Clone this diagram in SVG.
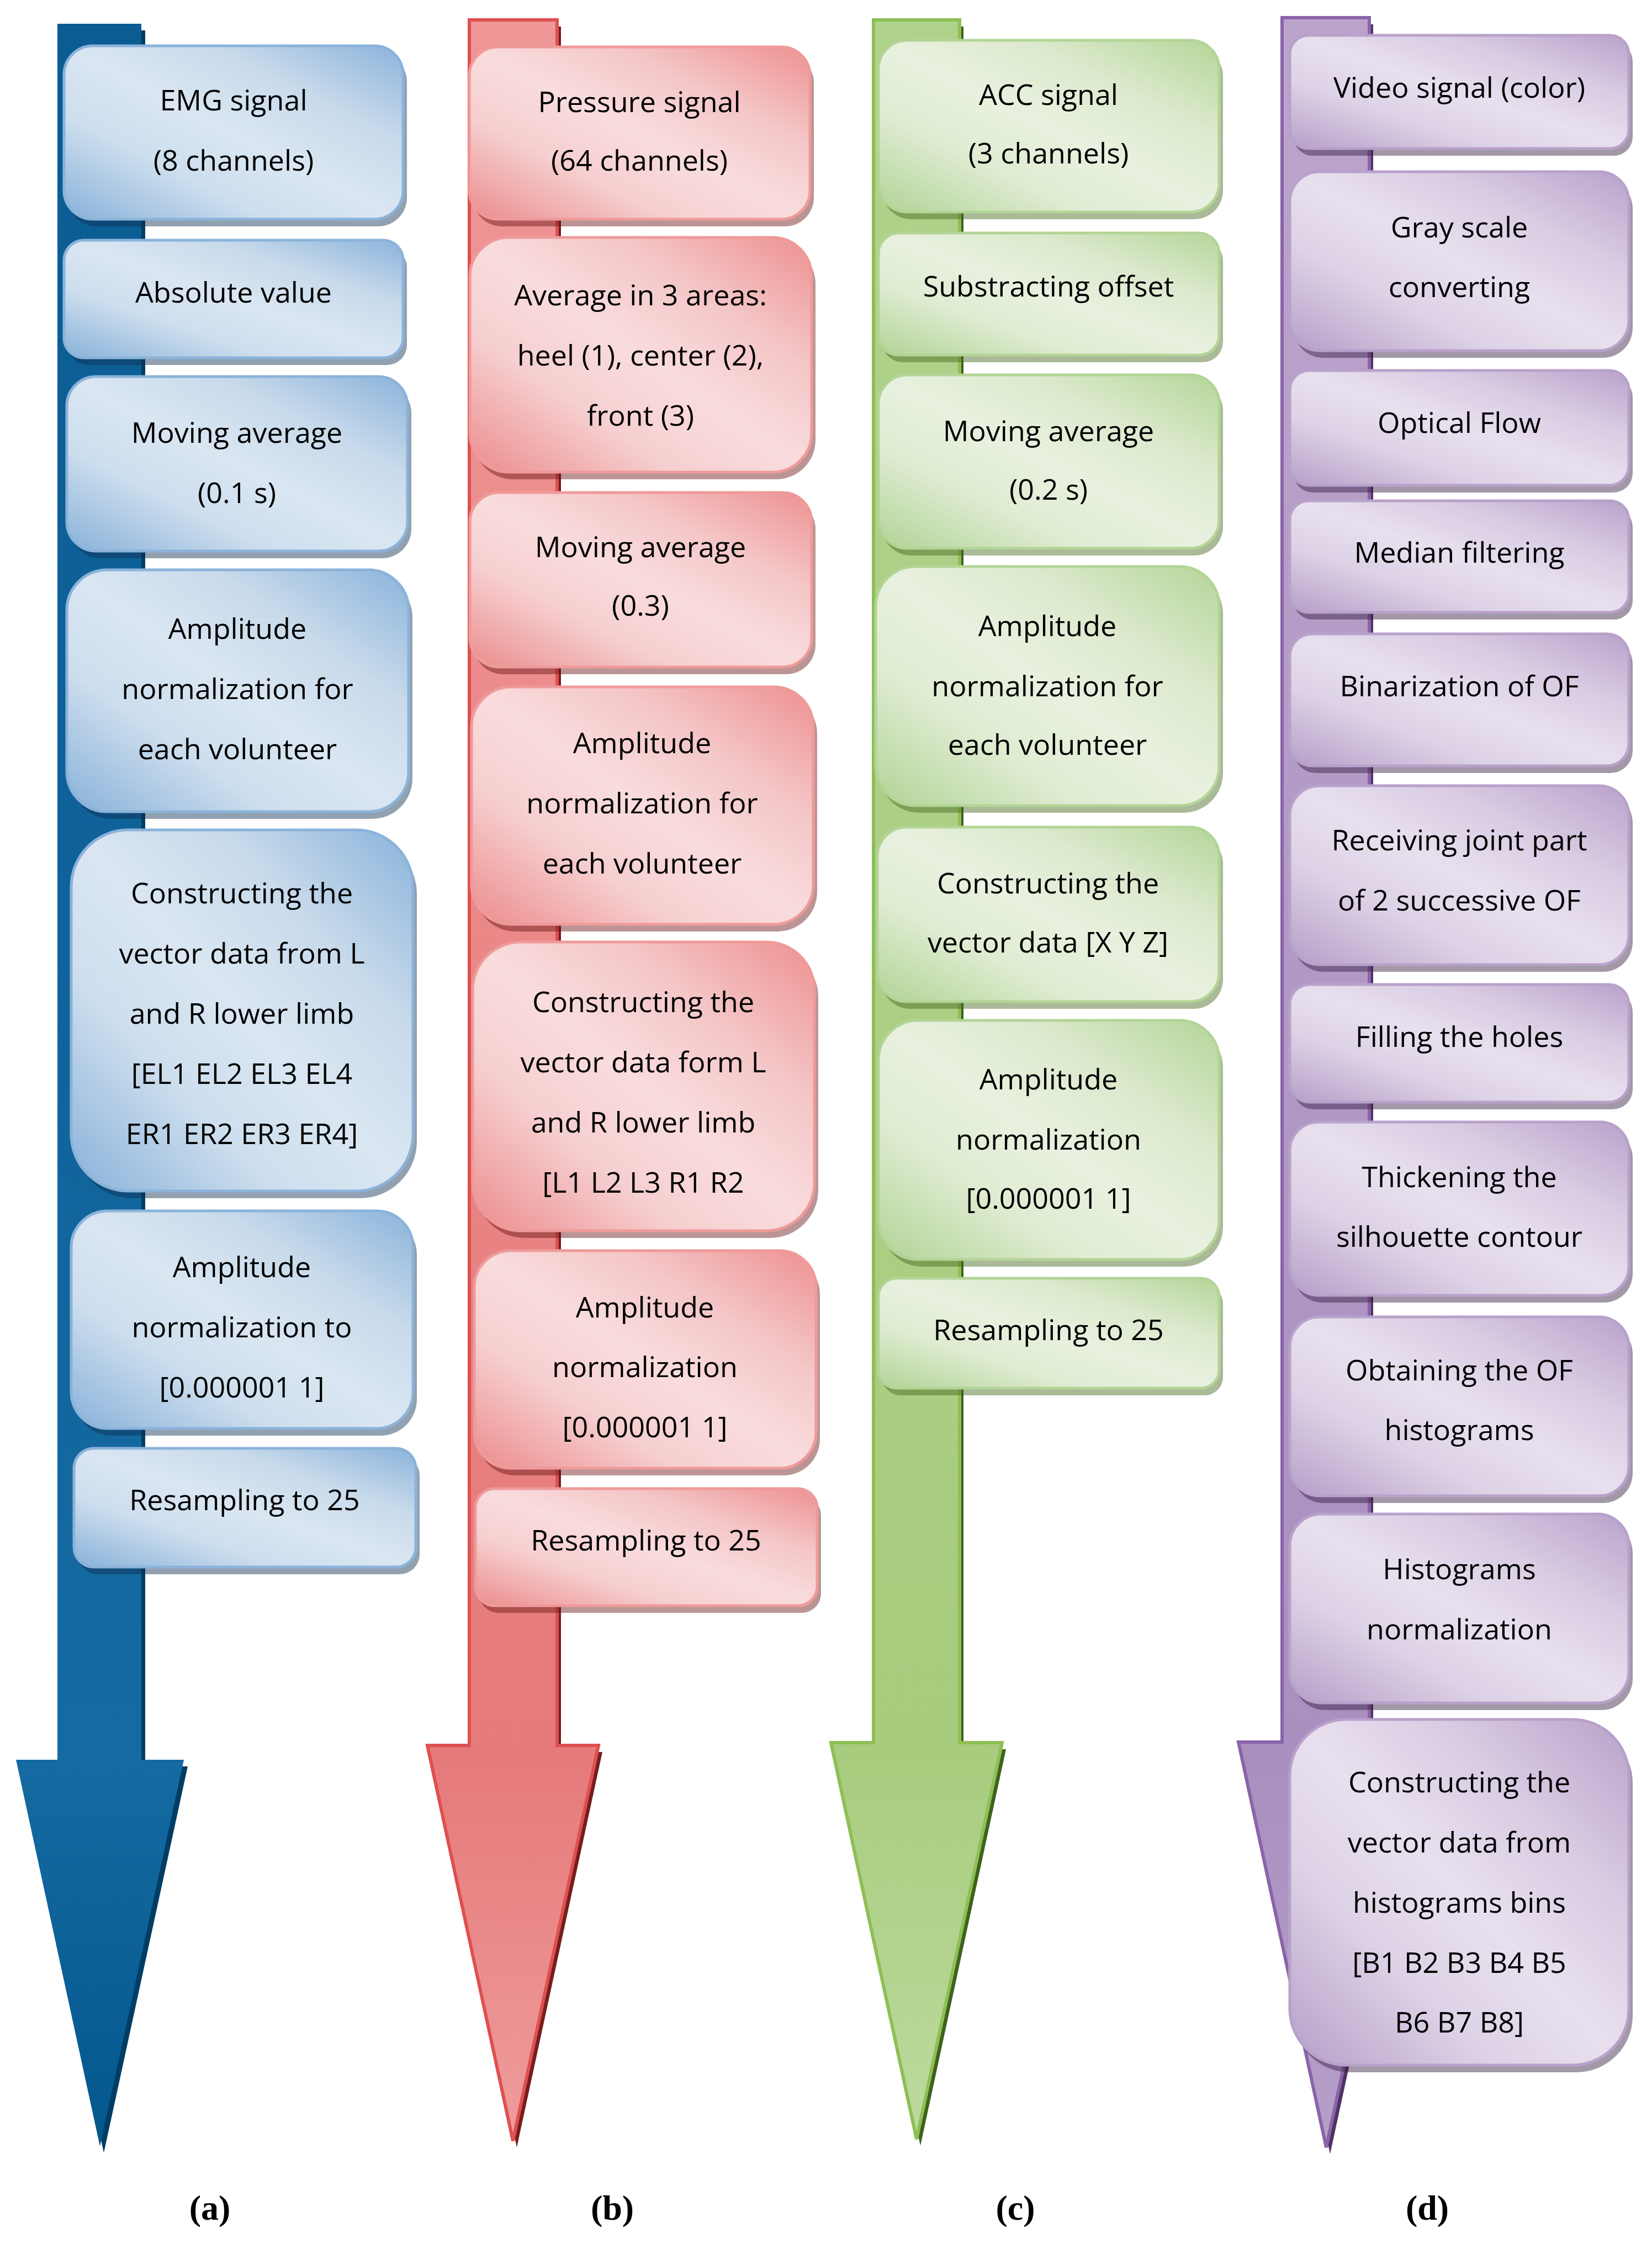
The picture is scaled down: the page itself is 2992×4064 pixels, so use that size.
<svg xmlns="http://www.w3.org/2000/svg" width="2992" height="4064" viewBox="0 0 2992 4064">
<style>
.t{font-family:"Open Sans","Noto Sans","DejaVu Sans",sans-serif;font-size:52px;fill:#000;text-anchor:middle}
.lbl{font-family:"Liberation Serif","DejaVu Serif",serif;font-weight:bold;font-size:64px;fill:#000;text-anchor:middle}
.bb{fill:url(#gB);stroke:#8bb3da;stroke-width:5}
.br{fill:url(#gR);stroke:#ef9a9a;stroke-width:5}
.bg{fill:url(#gG);stroke:#b3d496;stroke-width:5}
.bp{fill:url(#gP);stroke:#b8a1ca;stroke-width:5}
.sb{fill:#0d2f4f;opacity:.45}
.sr{fill:#681414;opacity:.45}
.sg{fill:#43641a;opacity:.45}
.sp{fill:#331b3e;opacity:.45}
</style>
<defs>
<linearGradient id="gB" x1="0" y1="1" x2="1" y2="0">
<stop offset="0" stop-color="#88b1d9"/><stop offset="0.3" stop-color="#cddeee"/><stop offset="0.5" stop-color="#dae6f2"/><stop offset="0.72" stop-color="#c8daeb"/><stop offset="1" stop-color="#8ab3db"/>
</linearGradient>
<linearGradient id="gR" x1="0" y1="1" x2="1" y2="0">
<stop offset="0" stop-color="#ec8c8c"/><stop offset="0.3" stop-color="#f6cfd0"/><stop offset="0.5" stop-color="#f9dcdd"/><stop offset="0.72" stop-color="#f4c6c7"/><stop offset="1" stop-color="#ee9090"/>
</linearGradient>
<linearGradient id="gG" x1="0" y1="1" x2="1" y2="0">
<stop offset="0" stop-color="#b2d395"/><stop offset="0.3" stop-color="#dfecd2"/><stop offset="0.5" stop-color="#e8f1df"/><stop offset="0.72" stop-color="#dce9cd"/><stop offset="1" stop-color="#b4d598"/>
</linearGradient>
<linearGradient id="gP" x1="0" y1="1" x2="1" y2="0">
<stop offset="0" stop-color="#b59fc8"/><stop offset="0.3" stop-color="#ddd2e6"/><stop offset="0.5" stop-color="#e8e0ee"/><stop offset="0.72" stop-color="#d9cce3"/><stop offset="1" stop-color="#b8a2ca"/>
</linearGradient>
<linearGradient id="aB" gradientUnits="userSpaceOnUse" x1="0" y1="43" x2="0" y2="3887">
<stop offset="0" stop-color="#0a5c92"/><stop offset="0.82" stop-color="#156aa1"/><stop offset="1" stop-color="#03578c"/>
</linearGradient>
<linearGradient id="aR" gradientUnits="userSpaceOnUse" x1="0" y1="36" x2="0" y2="3877">
<stop offset="0" stop-color="#ef9696"/><stop offset="0.82" stop-color="#e67a7a"/><stop offset="1" stop-color="#ef9c9c"/>
</linearGradient>
<linearGradient id="aG" gradientUnits="userSpaceOnUse" x1="0" y1="36" x2="0" y2="3874">
<stop offset="0" stop-color="#afd28a"/><stop offset="0.82" stop-color="#a8cc7e"/><stop offset="1" stop-color="#bcdb9e"/>
</linearGradient>
<linearGradient id="aP" gradientUnits="userSpaceOnUse" x1="0" y1="32" x2="0" y2="3889">
<stop offset="0" stop-color="#bba4cc"/><stop offset="0.82" stop-color="#a98fc0"/><stop offset="1" stop-color="#b5a0c9"/>
</linearGradient>
</defs>
<rect width="2992" height="4064" fill="#fff"/>

<g id="connectors">
<polygon points="104,43 256,43 256,3187 333,3187 181,3887 29,3187 104,3187" fill="#003d64" transform="translate(7 12)"/>
<polygon points="104,43 256,43 256,3187 333,3187 181,3887 29,3187 104,3187" fill="url(#aB)"/>
<polygon points="850,36 1009,36 1009,3161 1084,3161 929,3877 774,3161 850,3161" fill="#761e1e" transform="translate(7 12)"/>
<polygon points="850,36 1009,36 1009,3161 1084,3161 929,3877 774,3161 850,3161" fill="url(#aR)" stroke="#de5050" stroke-width="6"/>
<polygon points="1582,36 1738,36 1738,3156 1815,3156 1660,3874 1505,3156 1582,3156" fill="#3f621d" transform="translate(7 12)"/>
<polygon points="1582,36 1738,36 1738,3156 1815,3156 1660,3874 1505,3156 1582,3156" fill="url(#aG)" stroke="#8dbf55" stroke-width="6"/>
<polygon points="2322,32 2480,32 2480,3155 2561,3155 2402,3889 2243,3155 2322,3155" fill="#4f3364" transform="translate(7 12)"/>
<polygon points="2322,32 2480,32 2480,3155 2561,3155 2402,3889 2243,3155 2322,3155" fill="url(#aP)" stroke="#8a64a8" stroke-width="6"/>
</g>

<!-- Column a -->
<g id="a1"><rect class="sb" x="116" y="83" width="614" height="314" rx="52" transform="translate(7 13)"/><rect class="bb" x="116" y="83" width="614" height="314" rx="52"/>
<text class="t" x="423" y="200">EMG signal</text><text class="t" x="423" y="309">(8 channels)</text></g>
<g id="a2"><rect class="sb" x="116" y="435" width="614" height="213" rx="36" transform="translate(7 13)"/><rect class="bb" x="116" y="435" width="614" height="213" rx="36"/>
<text class="t" x="423" y="548">Absolute value</text></g>
<g id="a3"><rect class="sb" x="121" y="682" width="617" height="316" rx="53" transform="translate(7 13)"/><rect class="bb" x="121" y="682" width="617" height="316" rx="53"/>
<text class="t" x="429" y="802">Moving average</text><text class="t" x="429" y="911">(0.1 s)</text></g>
<g id="a4"><rect class="sb" x="121" y="1032" width="619" height="438" rx="73" transform="translate(7 13)"/><rect class="bb" x="121" y="1032" width="619" height="438" rx="73"/>
<text class="t" x="430" y="1157">Amplitude</text><text class="t" x="430" y="1266">normalization for</text><text class="t" x="430" y="1375">each volunteer</text></g>
<g id="a5"><rect class="sb" x="129" y="1503" width="619" height="654" rx="103" transform="translate(7 13)"/><rect class="bb" x="129" y="1503" width="619" height="654" rx="103"/>
<text class="t" x="438" y="1636">Constructing the</text><text class="t" x="438" y="1745">vector data from L</text><text class="t" x="438" y="1854">and R lower limb</text><text class="t" x="438" y="1963">[EL1 EL2 EL3 EL4</text><text class="t" x="438" y="2072">ER1 ER2 ER3 ER4]</text></g>
<g id="a6"><rect class="sb" x="129" y="2193" width="619" height="394" rx="66" transform="translate(7 13)"/><rect class="bb" x="129" y="2193" width="619" height="394" rx="66"/>
<text class="t" x="438" y="2313">Amplitude</text><text class="t" x="438" y="2422">normalization to</text><text class="t" x="438" y="2531">[0.000001 1]</text></g>
<g id="a7"><rect class="sb" x="134" y="2623" width="619" height="215" rx="36" transform="translate(7 13)"/><rect class="bb" x="134" y="2623" width="619" height="215" rx="36"/>
<text class="t" x="443" y="2735">Resampling to 25</text></g>

<!-- Column b -->
<g id="b1"><rect class="sr" x="850" y="85" width="617" height="312" rx="52" transform="translate(7 13)"/><rect class="br" x="850" y="85" width="617" height="312" rx="52"/>
<text class="t" x="1158" y="203">Pressure signal</text><text class="t" x="1158" y="309">(64 channels)</text></g>
<g id="b2"><rect class="sr" x="851" y="430" width="619" height="425" rx="71" transform="translate(7 13)"/><rect class="br" x="851" y="430" width="619" height="425" rx="71"/>
<text class="t" x="1160" y="553">Average in 3 areas:</text><text class="t" x="1160" y="662">heel (1), center (2),</text><text class="t" x="1160" y="771">front (3)</text></g>
<g id="b3"><rect class="sr" x="851" y="892" width="619" height="316" rx="53" transform="translate(7 13)"/><rect class="br" x="851" y="892" width="619" height="316" rx="53"/>
<text class="t" x="1160" y="1009">Moving average</text><text class="t" x="1160" y="1115">(0.3)</text></g>
<g id="b4"><rect class="sr" x="854" y="1244" width="619" height="430" rx="72" transform="translate(7 13)"/><rect class="br" x="854" y="1244" width="619" height="430" rx="72"/>
<text class="t" x="1163" y="1364">Amplitude</text><text class="t" x="1163" y="1473">normalization for</text><text class="t" x="1163" y="1582">each volunteer</text></g>
<g id="b5"><rect class="sr" x="856" y="1706" width="619" height="523" rx="87" transform="translate(7 13)"/><rect class="br" x="856" y="1706" width="619" height="523" rx="87"/>
<text class="t" x="1165" y="1833">Constructing the</text><text class="t" x="1165" y="1942">vector data form L</text><text class="t" x="1165" y="2051">and R lower limb</text><text class="t" x="1165" y="2160">[L1 L2 L3 R1 R2</text></g>
<g id="b6"><rect class="sr" x="859" y="2265" width="619" height="394" rx="66" transform="translate(7 13)"/><rect class="br" x="859" y="2265" width="619" height="394" rx="66"/>
<text class="t" x="1168" y="2386">Amplitude</text><text class="t" x="1168" y="2494">normalization</text><text class="t" x="1168" y="2603">[0.000001 1]</text></g>
<g id="b7"><rect class="sr" x="861" y="2696" width="619" height="212" rx="35" transform="translate(7 13)"/><rect class="br" x="861" y="2696" width="619" height="212" rx="35"/>
<text class="t" x="1170" y="2808">Resampling to 25</text></g>

<!-- Column c -->
<g id="c1"><rect class="sg" x="1591" y="73" width="617" height="311" rx="52" transform="translate(7 13)"/><rect class="bg" x="1591" y="73" width="617" height="311" rx="52"/>
<text class="t" x="1899" y="190">ACC signal</text><text class="t" x="1899" y="296">(3 channels)</text></g>
<g id="c2"><rect class="sg" x="1591" y="422" width="617" height="221" rx="37" transform="translate(7 13)"/><rect class="bg" x="1591" y="422" width="617" height="221" rx="37"/>
<text class="t" x="1899" y="537">Substracting offset</text></g>
<g id="c3"><rect class="sg" x="1591" y="679" width="617" height="314" rx="52" transform="translate(7 13)"/><rect class="bg" x="1591" y="679" width="617" height="314" rx="52"/>
<text class="t" x="1899" y="799">Moving average</text><text class="t" x="1899" y="905">(0.2 s)</text></g>
<g id="c4"><rect class="sg" x="1586" y="1026" width="622" height="433" rx="72" transform="translate(7 13)"/><rect class="bg" x="1586" y="1026" width="622" height="433" rx="72"/>
<text class="t" x="1897" y="1152">Amplitude</text><text class="t" x="1897" y="1261">normalization for</text><text class="t" x="1897" y="1367">each volunteer</text></g>
<g id="c5"><rect class="sg" x="1589" y="1498" width="619" height="316" rx="53" transform="translate(7 13)"/><rect class="bg" x="1589" y="1498" width="619" height="316" rx="53"/>
<text class="t" x="1898" y="1618">Constructing the</text><text class="t" x="1898" y="1725">vector data [X Y Z]</text></g>
<g id="c6"><rect class="sg" x="1591" y="1848" width="617" height="433" rx="72" transform="translate(7 13)"/><rect class="bg" x="1591" y="1848" width="617" height="433" rx="72"/>
<text class="t" x="1899" y="1973">Amplitude</text><text class="t" x="1899" y="2082">normalization</text><text class="t" x="1899" y="2189">[0.000001 1]</text></g>
<g id="c7"><rect class="sg" x="1591" y="2315" width="617" height="199" rx="33" transform="translate(7 13)"/><rect class="bg" x="1591" y="2315" width="617" height="199" rx="33"/>
<text class="t" x="1899" y="2427">Resampling to 25</text></g>

<!-- Column d -->
<g id="d1"><rect class="sp" x="2336" y="64" width="614" height="205" rx="34" transform="translate(7 13)"/><rect class="bp" x="2336" y="64" width="614" height="205" rx="34"/>
<text class="t" x="2643" y="177">Video signal (color)</text></g>
<g id="d2"><rect class="sp" x="2336" y="311" width="614" height="324" rx="54" transform="translate(7 13)"/><rect class="bp" x="2336" y="311" width="614" height="324" rx="54"/>
<text class="t" x="2643" y="430">Gray scale</text><text class="t" x="2643" y="538">converting</text></g>
<g id="d3"><rect class="sp" x="2336" y="671" width="614" height="208" rx="35" transform="translate(7 13)"/><rect class="bp" x="2336" y="671" width="614" height="208" rx="35"/>
<text class="t" x="2643" y="784">Optical Flow</text></g>
<g id="d4"><rect class="sp" x="2336" y="907" width="614" height="202" rx="34" transform="translate(7 13)"/><rect class="bp" x="2336" y="907" width="614" height="202" rx="34"/>
<text class="t" x="2643" y="1019">Median filtering</text></g>
<g id="d5"><rect class="sp" x="2336" y="1148" width="614" height="239" rx="40" transform="translate(7 13)"/><rect class="bp" x="2336" y="1148" width="614" height="239" rx="40"/>
<text class="t" x="2643" y="1261">Binarization of OF</text></g>
<g id="d6"><rect class="sp" x="2336" y="1423" width="614" height="324" rx="54" transform="translate(7 13)"/><rect class="bp" x="2336" y="1423" width="614" height="324" rx="54"/>
<text class="t" x="2643" y="1540">Receiving joint part</text><text class="t" x="2643" y="1649">of 2 successive OF</text></g>
<g id="d7"><rect class="sp" x="2336" y="1783" width="614" height="213" rx="36" transform="translate(7 13)"/><rect class="bp" x="2336" y="1783" width="614" height="213" rx="36"/>
<text class="t" x="2643" y="1896">Filling the holes</text></g>
<g id="d8"><rect class="sp" x="2336" y="2032" width="614" height="314" rx="52" transform="translate(7 13)"/><rect class="bp" x="2336" y="2032" width="614" height="314" rx="52"/>
<text class="t" x="2643" y="2150">Thickening the</text><text class="t" x="2643" y="2258">silhouette contour</text></g>
<g id="d9"><rect class="sp" x="2336" y="2385" width="614" height="324" rx="54" transform="translate(7 13)"/><rect class="bp" x="2336" y="2385" width="614" height="324" rx="54"/>
<text class="t" x="2643" y="2500">Obtaining the OF</text><text class="t" x="2643" y="2608">histograms</text></g>
<g id="d10"><rect class="sp" x="2336" y="2742" width="614" height="342" rx="57" transform="translate(7 13)"/><rect class="bp" x="2336" y="2742" width="614" height="342" rx="57"/>
<text class="t" x="2643" y="2860">Histograms</text><text class="t" x="2643" y="2969">normalization</text></g>
<g id="d11"><rect class="sp" x="2336" y="3114" width="614" height="626" rx="102" transform="translate(7 13)"/><rect class="bp" x="2336" y="3114" width="614" height="626" rx="102"/>
<text class="t" x="2643" y="3246">Constructing the</text><text class="t" x="2643" y="3355">vector data from</text><text class="t" x="2643" y="3464">histograms bins</text><text class="t" x="2643" y="3573">[B1 B2 B3 B4 B5</text><text class="t" x="2643" y="3681">B6 B7 B8]</text></g>

<g id="labels">
<text class="lbl" x="380" y="4020">(a)</text>
<text class="lbl" x="1109" y="4020">(b)</text>
<text class="lbl" x="1839" y="4020">(c)</text>
<text class="lbl" x="2585" y="4020">(d)</text>
</g>
</svg>
